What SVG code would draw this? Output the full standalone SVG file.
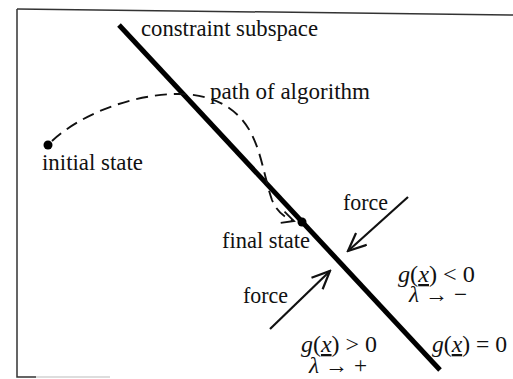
<svg xmlns="http://www.w3.org/2000/svg" width="513" height="379" viewBox="0 0 513 379">
<style>
text{font-family:"Liberation Serif","Times New Roman",serif;font-size:24px;fill:#111}
.mt{font-size:23px}
.m{font-style:italic}
.frame{stroke:#333;stroke-width:1.5;fill:none}
.conn{stroke:#111;stroke-width:2.2;fill:none}
</style>
<defs>
<marker id="arr" markerUnits="userSpaceOnUse" viewBox="0 0 22 18" refX="20" refY="9" markerWidth="22" markerHeight="18" orient="auto">
<path d="M2,1 L20,9 L2,17" fill="none" stroke="#111" stroke-width="2.2"/>
</marker>
<marker id="arrs" markerUnits="userSpaceOnUse" viewBox="0 0 16 14" refX="14" refY="7" markerWidth="16" markerHeight="14" orient="auto">
<path d="M2,1 L14,7 L2,13" fill="none" stroke="#111" stroke-width="1.8" stroke-dasharray="none"/>
</marker>
</defs>
<g id="frame">
<path class="frame" d="M17,9 L513,15"/>
<path class="frame" d="M17,9 L17,377 L36,377"/>
<path d="M36,377 L110,377" stroke="#bbb" stroke-width="1.2"/>
</g>
<g id="connectors">
<path id="constraint-line" d="M119,25 L440,370" stroke="#000" stroke-width="5" fill="none"/>
<path id="path-of-algorithm" d="M52,141 C 80,115 130,95 175,94 C 215,93 240,110 252,135 C 262,155 265,180 272,200 C 277,212 285,218 294,221" fill="none" stroke="#111" stroke-width="1.9" stroke-dasharray="12,7" marker-end="url(#arrs)"/>
<path id="force-upper" class="conn" d="M408,197 L348,251" marker-end="url(#arr)"/>
<path id="force-lower" class="conn" d="M270,329 L330,271" marker-end="url(#arr)"/>
</g>
<g id="initial-state">
<circle cx="48" cy="145" r="4.5" fill="#000"/>
<text x="42" y="170" textLength="101" lengthAdjust="spacingAndGlyphs">initial state</text>
</g>
<g id="final-state">
<circle cx="302" cy="222" r="4.5" fill="#000"/>
<text x="222" y="248" textLength="88" lengthAdjust="spacingAndGlyphs">final state</text>
</g>
<g id="labels">
<text x="141" y="36" textLength="177" lengthAdjust="spacingAndGlyphs">constraint subspace</text>
<text x="210" y="99" textLength="160" lengthAdjust="spacingAndGlyphs">path of algorithm</text>
<text x="343" y="210" textLength="45" lengthAdjust="spacingAndGlyphs">force</text>
<text x="243" y="303" textLength="45" lengthAdjust="spacingAndGlyphs">force</text>
<text class="mt" x="398" y="282" textLength="77" lengthAdjust="spacingAndGlyphs"><tspan class="m">g</tspan>(<tspan class="m" text-decoration="underline">x</tspan>) &lt; 0</text>
<text class="mt" x="409" y="302" textLength="58" lengthAdjust="spacingAndGlyphs"><tspan class="m">λ</tspan> → −</text>
<text class="mt" x="301" y="352" textLength="76" lengthAdjust="spacingAndGlyphs"><tspan class="m">g</tspan>(<tspan class="m" text-decoration="underline">x</tspan>) &gt; 0</text>
<text class="mt" x="309" y="373" textLength="58" lengthAdjust="spacingAndGlyphs"><tspan class="m">λ</tspan> → +</text>
<text class="mt" x="432" y="352" textLength="75" lengthAdjust="spacingAndGlyphs"><tspan class="m">g</tspan>(<tspan class="m" text-decoration="underline">x</tspan>) = 0</text>
</g>
</svg>
